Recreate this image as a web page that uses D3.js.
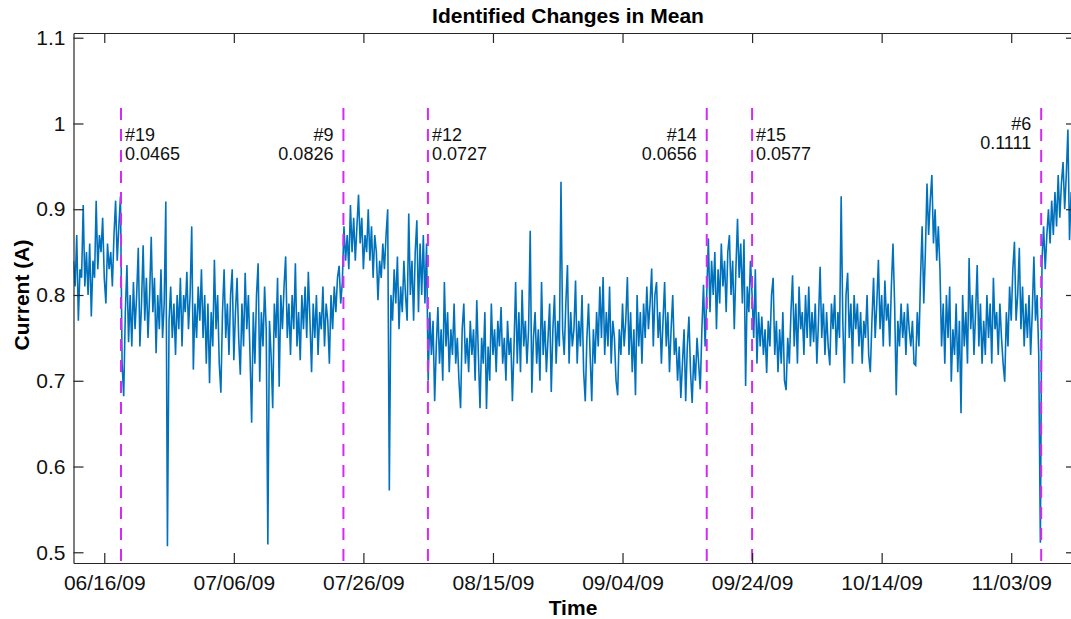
<!DOCTYPE html>
<html><head><meta charset="utf-8">
<script src="https://cdn.jsdelivr.net/npm/d3@7"></script>
<style>body{margin:0;background:#fff}svg{display:block}</style>
</head><body>
<svg id="chart" width="1071" height="619"></svg>
<script>
// ---- data ----
const startTime = "2009-06-11T06:00:00Z";
const stepHours = 6;
const endTime = "2009-11-13T00:00:00Z";
const seg1 = [.84,.81,.87,.77,.83,.82,.905,.81,.85,.80,.86,.775,.84,.82,.91,.83,.87,.85,.89,.82,.79,.86,.83,.85,.81,.87,.91,.84,.88,.915];
const seg2 = [.72,.682,.78,.835,.745,.80,.74,.815,.76,.80,
  .855,.74,.79,.858,.77,.82,.75,.80,.868,.78,
  .82,.732,.80,.76,.83,.75,.79,.909,.507,.77,
  .81,.75,.79,.73,.80,.76,.82,.74,.80,.78,
  .827,.76,.80,.88,.713,.79,.75,.81,.77,.83,
  .75,.80,.72,.79,.697,.78,.74,.841,.76,.80,
  .72,.686,.78,.83,.75,.79,.73,.80,.83,.724,
  .78,.82,.75,.707,.79,.74,.826,.76,.80,.73,
  .651,.78,.72,.80,.837,.699,.78,.74,.81,.76,
  .509,.77,.73,.668,.79,.75,.82,.693,.80,.76,
  .81,.845,.75,.79,.73,.80,.76,.837,.74,.78,
  .724,.80,.76,.81,.75,.827,.77,.71,.79,.75,
  .80,.73,.78,.76,.81,.74,.79,.77,.72,.80,
  .76,.81,.78,.82,.834,.79,.815];
const seg3 = [.88,.84,.87,.83,.905,.85,.89,.84,.88,.917,
  .86,.89,.83,.87,.85,.90,.84,.88,.82,.87,
  .85,.794,.84,.82,.86,.83,.87,.90,.572,.80,
  .77,.83,.79,.845,.76,.81,.78,.84,.80,.77,
  .895,.80,.84,.77,.85,.887,.78,.86,.80,.87,
  .79,.86];
const seg4 = [.70,.78,.73,.77,.676,.74,.786,.72,.76,.70,
  .815,.74,.78,.71,.76,.73,.79,.72,.75,.70,
  .668,.76,.79,.72,.75,.71,.77,.73,.76,.70,
  .794,.73,.668,.75,.72,.78,.667,.74,.70,.79,
  .73,.76,.71,.77,.74,.786,.72,.75,.70,.77,
  .73,.75,.676,.74,.815,.72,.78,.71,.806,.74,
  .77,.72,.76,.875,.686,.75,.78,.72,.76,.70,
  .815,.73,.77,.71,.75,.79,.687,.76,.80,.72,
  .77,.74,.932,.76,.73,.79,.835,.72,.78,.74,
  .76,.817,.72,.77,.74,.80,.71,.676,.75,.79,
  .73,.676,.76,.72,.78,.74,.81,.75,.821,.73,
  .78,.74,.81,.72,.77,.75,.70,.683,.76,.73,
  .79,.74,.77,.821,.73,.78,.71,.76,.683,.80,
  .74,.78,.72,.79,.75,.81,.76,.79,.831,.74,
  .80,.815,.75,.78,.72,.77,.815,.74,.78,.71,
  .76,.80,.73,.75,.70,.74,.680,.72,.76,.676,
  .74,.775,.71,.674,.73,.70,.75,.72,.69,.76,
  .812,.74];
const seg5 = [.80,.866,.78,.84,.80,.85,.76,.83,.79,.86,
  .81,.84,.78,.85,.87,.80,.84,.76,.83,.889,
  .82,.86,.79,.865,.694,.81,.78,.84];
const seg6 = [.80,.75,.83,.72,.78,.74,.775,.73,.76,.709,
  .77,.74,.80,.82,.73,.77,.71,.76,.72,.78,
  .70,.689,.75,.72,.78,.823,.74,.79,.72,.81,
  .76,.78,.73,.80,.75,.81,.74,.78,.745,.79,
  .72,.77,.833,.75,.79,.73,.78,.74,.718,.79,
  .76,.80,.73,.78,.75,.915,.77,.697,.80,.826,
  .75,.79,.72,.80,.76,.79,.74,.78,.72,.77,
  .75,.80,.73,.71,.77,.82,.75,.79,.841,.76,
  .80,.74,.817,.77,.79,.74,.81,.86,.79,.683,
  .77,.74,.79,.75,.78,.73,.79,.76,.74,.77,
  .72,.718,.78,.74,.82,.88,.79,.85,.93,.87,
  .91,.94,.86,.90,.84,.88,.83,.74,.79,.72,
  .80,.75,.81,.699,.76,.73,.79,.71,.77,.662,
  .80,.74,.78,.72,.843,.76,.80,.73,.78,.835,
  .74,.79,.72,.77,.73,.80,.75,.79,.72,.82,
  .76,.78,.73,.79,.75,.72,.699,.78,.74,.81,
  .77,.83,.862,.77,.80,.855,.76,.81,.74,.79,
  .75,.80,.73,.78,.845,.77,.80,.73,.511];
const seg7 = [.84,.88,.83,.87,.90,.86,.91,.87,.92,.88,.94,.89,.93,.955,.90,.94,.993,.864,.92,.89,.91,.88,.90];

const changeDates = ["2009-06-18T14:00:00Z","2009-07-22T22:00:00Z","2009-08-04T23:00:00Z","2009-09-17T00:00:00Z","2009-09-24T00:00:00Z","2009-11-07T15:00:00Z"];
const changeIds = ["#19","#9","#12","#14","#15","#6"];
const changeSizes = ["0.0465","0.0826","0.0727","0.0656","0.0577","0.1111"];

const xTickDates = ["2009-06-16","2009-07-06","2009-07-26","2009-08-15","2009-09-04","2009-09-24","2009-10-14","2009-11-03"];
const yTickValues = [0.5,0.6,0.7,0.8,0.9,1.0,1.1];
const yTickLabels = ["0.5","0.6","0.7","0.8","0.9","1","1.1"];

const titleText = "Identified Changes in Mean";
const xLabelText = "Time";
const yLabelText = "Current (A)";

// ---- drawing ----
const FONT = "'Liberation Sans', Arial, Helvetica, sans-serif";
const AX = "#262626";
const L = 73.5, R = 1076, T = 33, B = 563;
const svg = d3.select("#chart");

const x = d3.scaleUtc().domain([new Date(startTime), new Date(endTime)]).range([L, R]);
const y = d3.scaleLinear().domain([0.4875, 1.1055]).range([B, T]);

const values = [].concat(seg1, seg2, seg3, seg4, seg5, seg6, seg7);
const t0 = new Date(startTime);
const points = values.map((v, i) => ({t: d3.utcHour.offset(t0, i * stepHours), v}));

svg.append("defs").append("clipPath").attr("id", "clip")
  .append("rect").attr("x", L).attr("y", T).attr("width", R - L).attr("height", B - T);

svg.append("path").datum(points)
  .attr("clip-path", "url(#clip)")
  .attr("fill", "none").attr("stroke", "#0072BD").attr("stroke-width", 1.6)
  .attr("stroke-linejoin", "miter")
  .attr("d", d3.line().x(d => x(d.t)).y(d => y(d.v)));

// change lines
const cps = changeDates.map((d, i) => ({t: new Date(d), id: changeIds[i], size: changeSizes[i]}));
const rightSide = ["#19", "#12", "#15"];
svg.append("g").selectAll("line").data(cps).join("line")
  .attr("x1", d => x(d.t)).attr("x2", d => x(d.t))
  .attr("y1", 108).attr("y2", B)
  .attr("stroke", "#d42af5").attr("stroke-width", 2).attr("stroke-dasharray", "12,9");

const lab = svg.append("g").attr("font-family", FONT).attr("font-size", 18).attr("fill", "#111");
cps.forEach(d => {
  const onRight = rightSide.includes(d.id);
  const xx = onRight ? x(d.t) + 4 : x(d.t) - 10;
  const y1 = d.id === "#6" ? 130 : 141;
  const tx = lab.append("text").attr("text-anchor", onRight ? "start" : "end");
  tx.append("tspan").attr("x", xx).attr("y", y1).text(d.id);
  tx.append("tspan").attr("x", xx).attr("y", y1 + 19).text(d.size);
});

// axes
function styleAxis(g) {
  g.attr("font-family", FONT).attr("font-size", 21);
  g.select(".domain").attr("stroke", AX).attr("stroke-width", 1.2);
  g.selectAll(".tick line").attr("stroke", AX).attr("stroke-width", 1.2);
  g.selectAll(".tick text").attr("fill", "#111");
}
const xDates = xTickDates.map(s => new Date(s + "T00:00:00Z"));
svg.append("g").attr("transform", `translate(0,${B})`)
  .call(d3.axisBottom(x).tickValues(xDates).tickSize(-10).tickSizeOuter(0).tickPadding(12)
    .tickFormat(d3.utcFormat("%m/%d/%y")))
  .call(styleAxis);
svg.append("g").attr("transform", `translate(0,${T})`)
  .call(d3.axisTop(x).tickValues(xDates).tickSize(-10).tickSizeOuter(0).tickFormat(""))
  .call(styleAxis);
svg.append("g").attr("transform", `translate(${L},0)`)
  .call(d3.axisLeft(y).tickValues(yTickValues).tickSize(-10).tickSizeOuter(0).tickPadding(8)
    .tickFormat((d, i) => yTickLabels[i]))
  .call(styleAxis);
svg.append("g").attr("transform", `translate(${R},0)`)
  .call(d3.axisRight(y).tickValues(yTickValues).tickSize(-10).tickSizeOuter(0).tickFormat(""))
  .call(styleAxis);

// titles
svg.append("text").attr("x", 568).attr("y", 23).attr("text-anchor", "middle")
  .attr("font-family", FONT).attr("font-size", 21).attr("font-weight", "bold").attr("fill", "#000")
  .text(titleText);
svg.append("text").attr("x", 573).attr("y", 615).attr("text-anchor", "middle")
  .attr("font-family", FONT).attr("font-size", 21).attr("font-weight", "bold").attr("fill", "#000")
  .text(xLabelText);
svg.append("text").attr("transform", "translate(29,295) rotate(-90)").attr("text-anchor", "middle")
  .attr("font-family", FONT).attr("font-size", 21).attr("font-weight", "bold").attr("fill", "#000")
  .text(yLabelText);
</script>
</body></html>
